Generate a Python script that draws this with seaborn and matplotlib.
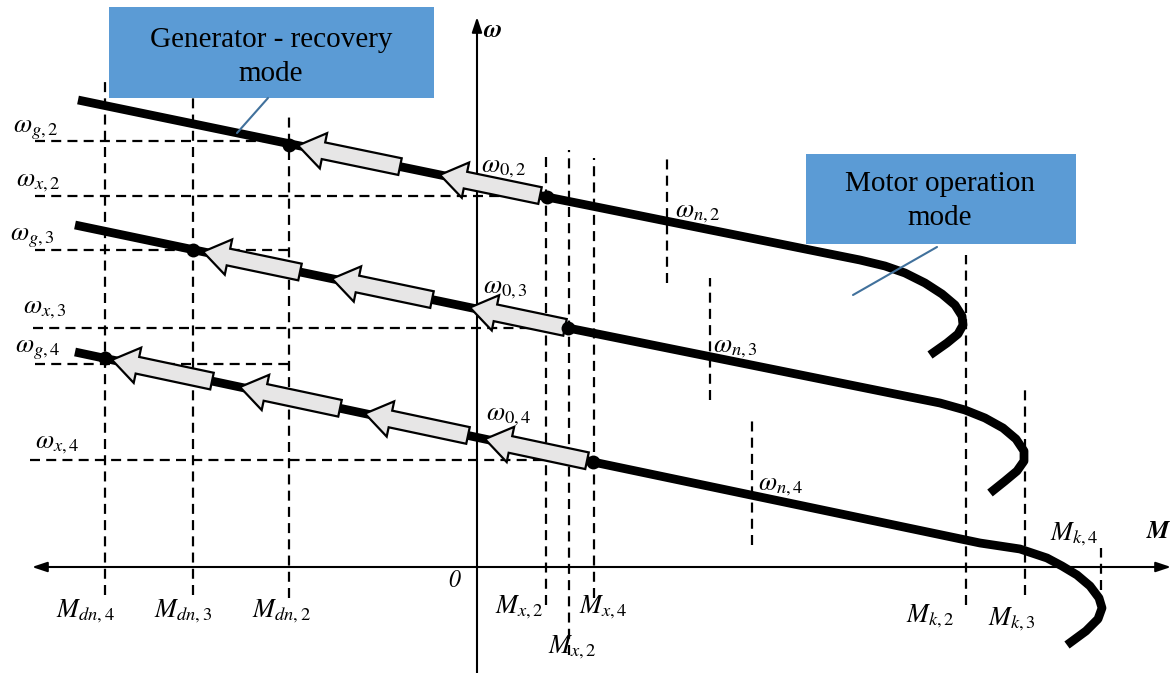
import numpy as np
import pandas as pd
import seaborn as sns
import matplotlib.pyplot as plt
from matplotlib.patches import FancyArrow, Rectangle

# mechanical characteristics omega(M), origin at the axes cross
curve2_M = [-399, 70, 343, 383, 408, 428, 448, 465, 478, 485, 486, 481, 470, 453]
curve2_w = [467, 370, 315, 307, 301, 294, 284, 273, 262, 251, 242, 233, 224, 212]
curve3_M = [-402, 91, 423, 463, 488, 508, 526, 539, 547, 547, 540, 528, 513]
curve3_w = [342, 239, 172, 164, 157, 149, 139, 128, 116, 106, 96, 86, 74]
curve4_M = [-402, 116, 503, 543, 570, 585, 600, 613, 622, 625, 621, 609, 590]
curve4_w = [215, 105, 24, 18, 9, 1, -8, -19, -31, -41, -52, -64, -78]

# operating points
dot_M = [-188, 70, -284, 91, -372, 116]
dot_w = [422, 370, 317, 239, 209, 105]

# block arrows along each curve (tail M, tip M)
arrow2_tail = [63, -77]
arrow2_tip = [-37, -179]
arrow3_tail = [88, -45, -177]
arrow3_tip = [-7, -145, -274]
arrow4_tail = [110, -9, -137, -265]
arrow4_tip = [8, -112, -237, -365]

# dashed guide lines
hdash_w = [426, 371, 317, 239, 203, 107]
hdash_from = [-442, -442, -442, -444, -442, -447]
hdash_to = [-188, 70, -188, 91, -188, 116]
vdash_M = [-372, -284, -188, 69, 92, 117, 190, 233, 275, 489, 548, 624]
vdash_top = [489, 487, 455, 412, 417, 409, 409, 289, 147, 312, 177, 19]
vdash_bottom = [-28, -28, -31, -38, -88, -31, 284, 167, 22, -38, -28, -23]

# labels (left edge, baseline)
labels = [r'$\omega_{g,2}$', r'$\omega_{x,2}$', r'$\omega_{g,3}$', r'$\omega_{x,3}$',
          r'$\omega_{g,4}$', r'$\omega_{x,4}$', r'$\omega_{0,2}$', r'$\omega_{0,3}$',
          r'$\omega_{0,4}$', r'$\omega_{n,2}$', r'$\omega_{n,3}$', r'$\omega_{n,4}$',
          r'$M_{dn,4}$', r'$M_{dn,3}$', r'$M_{dn,2}$', r'$M_{x,2}$', r'$M_{x,2}$',
          r'$M_{x,4}$', r'$M_{k,2}$', r'$M_{k,3}$', r'$M_{k,4}$']
label_M = [-464, -461, -467, -454, -462, -442, 4, 6, 9, 198, 236, 281,
           -421, -323, -225, 18, 71, 102, 429, 511, 573]
label_w = [435, 381, 327, 254, 215, 119, 395, 274, 147, 350, 215, 77,
           -50, -50, -50, -46, -86, -46, -55, -58, 27]

df = pd.concat([
    pd.DataFrame({'M': curve2_M, 'w': curve2_w, 'curve': 2}),
    pd.DataFrame({'M': curve3_M, 'w': curve3_w, 'curve': 3}),
    pd.DataFrame({'M': curve4_M, 'w': curve4_w, 'curve': 4}),
])

sns.set_style('white')
plt.rcParams['mathtext.fontset'] = 'stix'
plt.rcParams['text.color'] = 'black'

fig = plt.figure(figsize=(11.71, 6.73), dpi=100)
ax = fig.add_axes([0, 0, 1, 1])
ax.set_xlim(-477, 694)
ax.set_ylim(-106, 567)
ax.axis('off')

# axes with arrows
ax.annotate('', xy=(694, 0), xytext=(-445, 0),
            arrowprops=dict(arrowstyle='<|-|>,head_length=0.9,head_width=0.3',
                            color='black', lw=1.5, shrinkA=0, shrinkB=0))
ax.annotate('', xy=(0, 550), xytext=(0, -106),
            arrowprops=dict(arrowstyle='-|>,head_length=0.9,head_width=0.3',
                            color='black', lw=1.5, shrinkA=0, shrinkB=0))

ax.hlines(hdash_w, hdash_from, hdash_to, colors='black', lw=1.6,
          linestyles=(0, (4.5, 2.8)), zorder=1)
ax.vlines(vdash_M, vdash_bottom, vdash_top, colors='black', lw=1.6,
          linestyles=(0, (4.5, 2.8)), zorder=1)

sns.lineplot(data=df, x='M', y='w', units='curve', estimator=None, sort=False,
             color='black', linewidth=6.3, solid_capstyle='butt', legend=False,
             ax=ax, zorder=3)

for tails, tips, cm, cw in [(arrow2_tail, arrow2_tip, curve2_M, curve2_w),
                            (arrow3_tail, arrow3_tip, curve3_M, curve3_w),
                            (arrow4_tail, arrow4_tip, curve4_M, curve4_w)]:
    for t0, t1 in zip(tails, tips):
        y0 = np.interp(t0, cm[:3], cw[:3])
        y1 = np.interp(t1, cm[:3], cw[:3])
        ax.add_patch(FancyArrow(t0, y0, t1 - t0, y1 - y0, width=17, head_width=36,
                                head_length=26, length_includes_head=True,
                                fc='#e7e6e6', ec='black', lw=1.6, zorder=4))

sns.scatterplot(x=dot_M, y=dot_w, color='black', s=100, linewidth=0, ax=ax, zorder=5)

for txt, m, w in zip(labels, label_M, label_w):
    ax.text(m, w, txt, fontsize=19, ha='left', va='baseline', color='black')

ax.text(6, 530, 'ω', fontfamily='STIXGeneral', fontweight='bold', fontstyle='italic',
        fontsize=18, ha='left', va='baseline')
ax.text(670, 29, 'M', fontfamily='STIXGeneral', fontweight='bold', fontstyle='italic',
        fontsize=18, ha='left', va='baseline')
ax.text(-29, -20, '0', fontfamily='STIXGeneral', fontstyle='italic',
        fontsize=17, ha='left', va='baseline')

# callout boxes
ax.add_patch(Rectangle((-368, 469), 325, 91, fc='#5b9bd5', ec='none', zorder=6))
ax.text(-206, 510, 'Generator - recovery\nmode', fontfamily='Liberation Serif',
        fontsize=21, ha='center', va='center', linespacing=1.4, color='black', zorder=7)
ax.plot([-209, -240], [469, 434], color='#41719c', lw=1.5, zorder=6)

ax.add_patch(Rectangle((329, 323), 270, 90, fc='#5b9bd5', ec='none', zorder=6))
ax.text(463, 366, 'Motor operation\nmode', fontfamily='Liberation Serif',
        fontsize=21, ha='center', va='center', linespacing=1.4, color='black', zorder=7)
ax.plot([460, 376], [320, 272], color='#41719c', lw=1.5, zorder=6)

fig.savefig('out.png', dpi=100)
